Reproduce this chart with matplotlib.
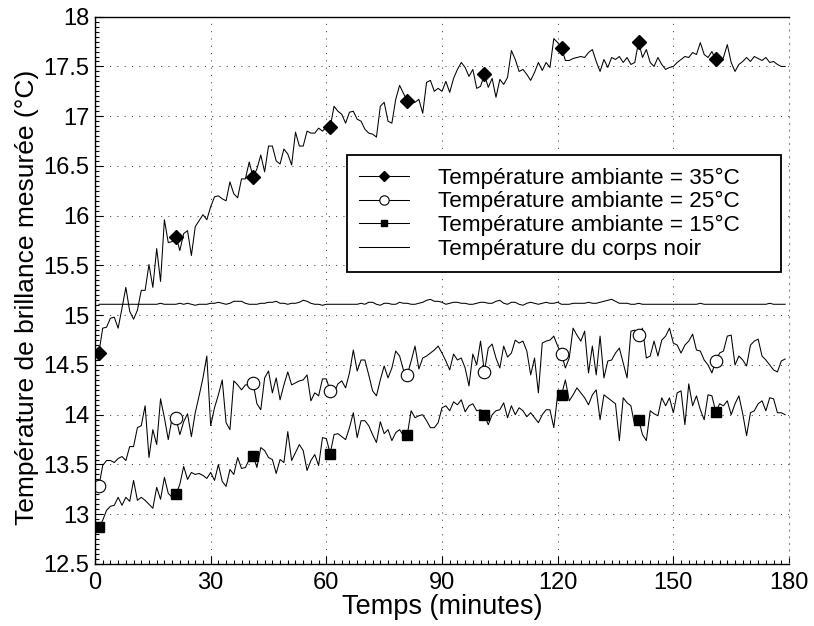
import numpy as np
import matplotlib.pyplot as plt
from matplotlib.ticker import MultipleLocator, FuncFormatter

plt.rcParams['font.family'] = ['Liberation Sans', 'DejaVu Sans']

# time axis (minutes), one reading per minute
minutes = np.arange(1, 180)

# ambient 35 C
t35 = [14.62, 14.87, 14.88, 14.97, 14.98, 14.87, 15.07, 15.28, 15.04, 14.96,
       15.05, 15.25, 15.25, 15.51, 15.28, 15.67, 15.34, 15.96, 15.73, 15.74,
       15.79, 15.65, 15.82, 15.85, 15.60, 15.89, 15.95, 16.01, 15.96, 16.09,
       16.19, 16.20, 16.17, 16.15, 16.34, 16.22, 16.18, 16.37, 16.37, 16.54,
       16.39, 16.47, 16.61, 16.44, 16.70, 16.70, 16.55, 16.52, 16.67, 16.62,
       16.51, 16.84, 16.70, 16.70, 16.85, 16.83, 16.83, 16.88, 16.85, 16.89,
       16.89, 17.10, 17.05, 17.02, 16.93, 17.04, 17.05, 16.97, 16.95, 16.87,
       16.83, 16.82, 16.79, 17.10, 17.14, 16.95, 16.93, 17.17, 17.31, 17.23,
       17.15, 17.13, 17.14, 17.17, 17.03, 17.34, 17.36, 17.25, 17.28, 17.25,
       17.35, 17.24, 17.38, 17.47, 17.54, 17.49, 17.40, 17.47, 17.28, 17.30,
       17.42, 17.29, 17.38, 17.19, 17.37, 17.32, 17.39, 17.66, 17.57, 17.45,
       17.47, 17.42, 17.36, 17.44, 17.54, 17.46, 17.54, 17.49, 17.78, 17.74,
       17.69, 17.56, 17.56, 17.58, 17.59, 17.60, 17.59, 17.64, 17.67, 17.55,
       17.45, 17.57, 17.49, 17.59, 17.57, 17.60, 17.54, 17.59, 17.52, 17.54,
       17.75, 17.59, 17.67, 17.54, 17.50, 17.59, 17.52, 17.47, 17.49, 17.50,
       17.54, 17.57, 17.60, 17.59, 17.64, 17.62, 17.74, 17.62, 17.59, 17.65,
       17.57, 17.54, 17.59, 17.72, 17.54, 17.45, 17.52, 17.55, 17.59, 17.55,
       17.60, 17.58, 17.56, 17.59, 17.54, 17.55, 17.52, 17.50, 17.50]

# ambient 25 C
t25 = [13.28, 13.49, 13.54, 13.54, 13.52, 13.56, 13.58, 13.54, 13.68, 13.68,
       13.87, 13.89, 14.09, 13.57, 13.85, 13.70, 14.16, 13.97, 13.75, 13.97,
       13.97, 13.80, 13.93, 14.01, 13.78, 14.02, 14.19, 14.37, 14.59, 13.89,
       14.07, 14.20, 14.35, 13.92, 13.85, 14.34, 14.30, 14.25, 14.30, 14.30,
       14.32, 14.11, 14.05, 14.37, 14.44, 14.22, 14.37, 14.15, 14.30, 14.43,
       14.30, 14.32, 14.34, 14.35, 14.40, 14.14, 14.22, 14.19, 14.36, 14.36,
       14.24, 14.22, 14.31, 14.34, 14.27, 14.42, 14.65, 14.44, 14.55, 14.55,
       14.40, 14.24, 14.19, 14.35, 14.49, 14.37, 14.47, 14.64, 14.59, 14.45,
       14.40, 14.54, 14.69, 14.46, 14.57, 14.59, 14.62, 14.65, 14.69, 14.62,
       14.54, 14.45, 14.61, 14.55, 14.57, 14.47, 14.29, 14.61, 14.50, 14.74,
       14.43, 14.67, 14.71, 14.57, 14.47, 14.69, 14.58, 14.62, 14.75, 14.72,
       14.74, 14.64, 14.40, 14.57, 14.22, 14.72, 14.74, 14.75, 14.79, 14.69,
       14.61, 14.47, 14.57, 14.87, 14.80, 14.74, 14.84, 14.42, 14.69, 14.40,
       14.79, 14.37, 14.54, 14.55, 14.62, 14.67, 14.52, 14.37, 14.84, 14.85,
       14.80, 14.87, 14.57, 14.59, 14.74, 14.59, 14.75, 14.79, 14.87, 14.72,
       14.70, 14.62, 14.70, 14.74, 14.81, 14.65, 14.64, 14.55, 14.50, 14.42,
       14.54, 14.62, 14.64, 14.79, 14.80, 14.50, 14.59, 14.55, 14.49, 14.70,
       14.74, 14.76, 14.59, 14.55, 14.50, 14.45, 14.43, 14.54, 14.56]

# ambient 15 C
t15 = [12.87, 12.94, 13.04, 13.08, 13.09, 13.17, 13.09, 13.17, 13.13, 13.34,
       13.14, 13.17, 13.14, 13.10, 13.06, 13.27, 13.15, 13.37, 13.21, 13.17,
       13.20, 13.30, 13.48, 13.35, 13.42, 13.40, 13.41, 13.39, 13.36, 13.42,
       13.34, 13.50, 13.33, 13.28, 13.45, 13.40, 13.57, 13.46, 13.47, 13.55,
       13.59, 13.47, 13.67, 13.64, 13.57, 13.55, 13.41, 13.55, 13.52, 13.83,
       13.54, 13.62, 13.70, 13.64, 13.44, 13.54, 13.60, 13.49, 13.77, 13.76,
       13.61, 13.80, 13.81, 13.78, 13.75, 13.87, 14.02, 13.77, 13.94, 13.94,
       13.89, 13.80, 13.72, 13.93, 13.81, 13.85, 13.74, 13.82, 13.85, 13.79,
       13.80, 14.04, 13.97, 13.99, 14.00, 13.94, 13.87, 13.87, 13.92, 14.07,
       14.09, 14.04, 14.13, 14.10, 14.15, 14.03, 14.09, 14.11, 14.04, 14.05,
       14.00, 13.90, 14.00, 14.04, 14.05, 14.12, 13.97, 14.09, 14.00, 14.07,
       14.04, 13.98, 14.02, 13.97, 13.92, 14.00, 14.05, 14.05, 13.87, 14.20,
       14.20, 14.35, 14.14, 14.20, 14.27, 14.22, 14.17, 14.10, 14.20, 14.25,
       13.95, 14.20, 14.17, 14.14, 14.11, 13.74, 14.17, 14.12, 14.09, 13.89,
       13.95, 13.80, 13.74, 14.04, 14.01, 13.99, 14.17, 14.09, 14.17, 14.02,
       14.22, 14.24, 13.90, 14.31, 14.09, 14.19, 14.05, 13.95, 14.20, 14.19,
       14.03, 14.11, 14.09, 14.14, 14.00, 14.11, 14.19, 14.01, 13.79, 14.02,
       14.04, 14.11, 14.14, 14.04, 14.17, 14.16, 14.02, 14.02, 14.00]

# black body
corps_noir = [15.11, 15.11, 15.11, 15.11, 15.11, 15.11, 15.11, 15.11, 15.11, 15.11,
              15.11, 15.11, 15.11, 15.11, 15.11, 15.11, 15.12, 15.11, 15.11, 15.11,
              15.11, 15.12, 15.11, 15.12, 15.11, 15.10, 15.11, 15.11, 15.11, 15.12,
              15.12, 15.13, 15.12, 15.11, 15.12, 15.14, 15.14, 15.14, 15.12, 15.11,
              15.11, 15.11, 15.12, 15.12, 15.13, 15.13, 15.14, 15.12, 15.12, 15.11,
              15.12, 15.12, 15.13, 15.15, 15.14, 15.12, 15.11, 15.11, 15.10, 15.11,
              15.11, 15.11, 15.11, 15.11, 15.11, 15.11, 15.11, 15.11, 15.12, 15.11,
              15.13, 15.13, 15.11, 15.10, 15.12, 15.12, 15.11, 15.11, 15.13, 15.12,
              15.12, 15.11, 15.11, 15.12, 15.13, 15.15, 15.16, 15.14, 15.14, 15.13,
              15.11, 15.12, 15.13, 15.13, 15.12, 15.12, 15.11, 15.11, 15.12, 15.13,
              15.13, 15.12, 15.12, 15.14, 15.15, 15.12, 15.11, 15.13, 15.13, 15.11,
              15.10, 15.12, 15.13, 15.12, 15.11, 15.12, 15.13, 15.12, 15.12, 15.13,
              15.11, 15.11, 15.11, 15.12, 15.12, 15.12, 15.12, 15.13, 15.12, 15.12,
              15.13, 15.14, 15.15, 15.16, 15.14, 15.12, 15.12, 15.12, 15.11, 15.11,
              15.12, 15.11, 15.11, 15.11, 15.11, 15.11, 15.11, 15.11, 15.11, 15.11,
              15.11, 15.11, 15.11, 15.11, 15.11, 15.11, 15.12, 15.11, 15.11, 15.11,
              15.11, 15.11, 15.11, 15.11, 15.11, 15.11, 15.11, 15.11, 15.11, 15.11,
              15.11, 15.11, 15.11, 15.11, 15.12, 15.11, 15.11, 15.11, 15.11]

labels = ['Température ambiante = 35°C', 'Température ambiante = 25°C',
          'Température ambiante = 15°C', 'Température du corps noir']

fig = plt.figure(figsize=(8.14, 6.26), dpi=100)
ax = fig.add_axes([95/814, 1 - 564/626, 694/814, 547.3/626])

lw = 0.75
ax.plot(minutes, t35, color='k', lw=lw, marker='D', ms=7.3, markevery=(0, 20),
        mfc='k', mec='k', label=labels[0])
ax.plot(minutes, t25, color='k', lw=lw, marker='o', ms=9, markevery=(0, 20),
        mfc='white', mec='k', mew=0.8, label=labels[1])
ax.plot(minutes, t15, color='k', lw=lw, marker='s', ms=6.5, markevery=(0, 20),
        mfc='k', mec='k', label=labels[2])
ax.plot(minutes, corps_noir, color='k', lw=lw, label=labels[3])

ax.set_xlim(0, 180)
ax.set_ylim(12.5, 18)
ax.xaxis.set_major_locator(MultipleLocator(30))
ax.xaxis.set_minor_locator(MultipleLocator(2))
ax.yaxis.set_major_locator(MultipleLocator(0.5))
ax.yaxis.set_minor_locator(MultipleLocator(0.05))
ax.yaxis.set_major_formatter(FuncFormatter(lambda v, p: '%g' % v))

ax.tick_params(which='both', direction='in', top=False, right=False,
               labelsize=17, width=0.8)
ax.tick_params(which='major', length=6)
ax.tick_params(which='minor', length=3)
ax.tick_params(axis='x', pad=6)
ax.tick_params(axis='y', pad=4)

ax.grid(True, which='major', linestyle=(0, (1, 6)), color='0.25', lw=0.75)
for s in ['left', 'bottom', 'top']:
    ax.spines[s].set_linewidth(1)
ax.spines['right'].set_linestyle((0, (1, 5)))
ax.spines['right'].set_color('0.55')

ax.set_xlabel('Temps (minutes)', fontsize=19.5, labelpad=0)
ax.set_ylabel('Température de brillance mesurée (°C)', fontsize=19, labelpad=3)
ax.yaxis.label.set_y(0.487)

leg = ax.legend(loc='upper left', bbox_to_anchor=(0.363, 0.533, 0.625, 0.214),
                mode='expand', fontsize=16.2,
                frameon=True, fancybox=False, edgecolor='k', framealpha=1,
                handlelength=2.2, handletextpad=1.3, labelspacing=0.12,
                borderpad=0.55, borderaxespad=0, markerscale=0.75)
leg.get_frame().set_linewidth(1.3)

fig.savefig('out.png', dpi=100)
